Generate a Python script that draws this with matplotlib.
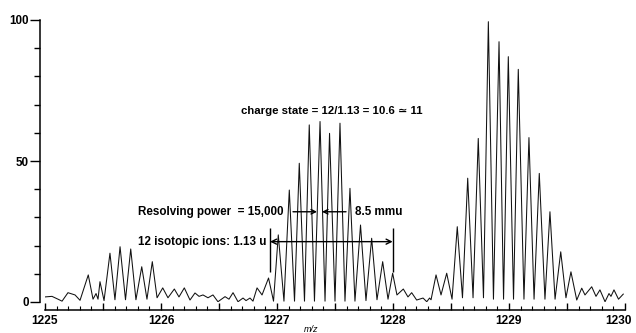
## ::: Importing Packages ::: ##
import numpy as np
import matplotlib
matplotlib.use('Agg')
import matplotlib.pyplot as plt
import matplotlib.transforms as mtransforms
from matplotlib.ticker import MultipleLocator

plt.rcParams['font.family'] = ['Liberation Sans', 'DejaVu Sans']
plt.rcParams['font.weight'] = 'bold'

## ::: Data ::: ##
# -> spectrum vertices: m/z and relative intensity (peak tops + valleys)
mz = [1225.000, 1225.060, 1225.112, 1225.147, 1225.198, 1225.259, 1225.302, 1225.373,
      1225.414, 1225.440, 1225.457, 1225.474, 1225.509, 1225.560, 1225.603, 1225.647,
      1225.694, 1225.739, 1225.784, 1225.834, 1225.879, 1225.925, 1225.966, 1226.015,
      1226.060, 1226.115, 1226.155, 1226.201, 1226.250, 1226.293, 1226.328, 1226.362,
      1226.405, 1226.448, 1226.491, 1226.552, 1226.586, 1226.621, 1226.664, 1226.707,
      1226.733, 1226.767, 1226.793, 1226.828, 1226.871, 1226.927, 1226.970, 1227.011,
      1227.060, 1227.106, 1227.151, 1227.192, 1227.237, 1227.278, 1227.323, 1227.371,
      1227.414, 1227.453, 1227.500, 1227.543, 1227.586, 1227.629, 1227.672, 1227.720,
      1227.767, 1227.816, 1227.862, 1227.911, 1227.957, 1227.997, 1228.034, 1228.089,
      1228.129, 1228.161, 1228.204, 1228.259, 1228.291, 1228.315, 1228.328, 1228.371,
      1228.414, 1228.463, 1228.509, 1228.554, 1228.599, 1228.644, 1228.690, 1228.735,
      1228.780, 1228.822, 1228.866, 1228.914, 1228.953, 1228.994, 1229.039, 1229.080,
      1229.129, 1229.172, 1229.216, 1229.261, 1229.310, 1229.353, 1229.397, 1229.446,
      1229.491, 1229.534, 1229.584, 1229.627, 1229.655, 1229.713, 1229.750, 1229.784,
      1229.828, 1229.862, 1229.879, 1229.905, 1229.944, 1229.985]
intensity = [1.8, 2.0, 1.0, 0.3, 3.3, 2.5, 0.6, 9.6,
             1.0, 3.0, 1.0, 7.2, 0.5, 17.3, 0.8, 19.6,
             0.8, 18.8, 0.8, 12.5, 1.0, 14.3, 1.5, 5.0,
             1.5, 4.6, 1.8, 5.0, 0.7, 3.2, 2.0, 2.5,
             1.5, 2.5, 0.1, 1.9, 1.0, 3.3, 0.1, 1.4,
             0.5, 1.4, 0.3, 5.0, 2.5, 8.5, 0.3, 23.8,
             0.3, 39.7, 0.3, 49.2, 0.3, 62.8, 0.3, 64.0,
             0.3, 59.8, 0.3, 63.4, 0.3, 40.3, 0.3, 27.3,
             0.5, 22.6, 0.8, 14.3, 1.0, 10.2, 2.5, 4.6,
             1.8, 3.3, 0.7, 1.4, 0.1, 1.4, 0.8, 9.6,
             2.5, 10.2, 1.0, 26.7, 1.5, 43.9, 1.5, 58.0,
             1.5, 99.4, 1.0, 92.3, 1.0, 87.0, 1.0, 82.5,
             1.0, 58.3, 1.0, 45.6, 1.0, 32.0, 1.0, 17.8,
             1.5, 10.7, 0.7, 4.9, 2.5, 5.4, 2.0, 4.3,
             0.1, 3.0, 2.0, 4.3, 1.0, 2.8]

x_ticks = [1225, 1225.5, 1226, 1226.5, 1227, 1227.5, 1228, 1228.5, 1229, 1229.5, 1230]
x_labels = ['1225', '', '1226', '', '1227', '', '1228', '', '1229', '', '1230']
y_ticks = [0, 50, 100]
y_labels = ['0', '50', '100']

# -> annotation positions (data units)
isotope_span = [1226.940, 1227.997]
fwhm_left = [1227.138, 1227.345]
fwhm_right = [1227.595, 1227.388]


## ::: Figure ::: ##
fig = plt.figure(figsize=(6.36, 3.33), dpi=100)
ax = fig.add_axes([45 / 636, 31 / 333, 580 / 636, 282 / 333])

ax.plot(mz, intensity, color='#111111', lw=0.75)
ax.set_xlim(1225, 1230)
ax.set_ylim(0, 100)

# -> spines
for s in ['top', 'right']:
    ax.spines[s].set_visible(False)
ax.spines['left'].set_position(('outward', 3.6))
ax.spines['bottom'].set_position(('outward', 5.4))
ax.spines['left'].set_linewidth(1.1)
ax.spines['bottom'].set_linewidth(1.1)
ax.spines['bottom'].set_bounds(1225, 1230)

ax.set_xticks(x_ticks)
ax.set_xticklabels(x_labels, fontsize=8.6, fontweight='bold')
ax.xaxis.set_minor_locator(MultipleLocator(0.1))
ax.tick_params(axis='x', which='major', direction='in', length=5, width=1.0, pad=4)
ax.tick_params(axis='x', which='minor', direction='in', length=3, width=0.8)

# -> last label sits at the right edge, nudge it in so it is not cut
last = ax.get_xticklabels()[-1]
last.set_transform(last.get_transform() +
                   mtransforms.ScaledTranslation(-0.06, 0, fig.dpi_scale_trans))

ax.set_yticks(y_ticks)
ax.set_yticklabels(y_labels, fontsize=8.4, fontweight='bold')
ax.yaxis.set_minor_locator(MultipleLocator(10))
ax.tick_params(axis='y', which='major', direction='out', length=7, width=1.0, pad=1)
ax.tick_params(axis='y', which='minor', direction='out', length=4, width=1.0)

## ::: Annotations ::: ##
fs = 8.4
ax.text(1226.687, 67.8, 'charge state = 12/1.13 = 10.6 \u2243 11', fontsize=8.2,
        fontweight='bold', ha='left', va='center')
ax.text(1225.804, 32.0, 'Resolving power  = 15,000', fontsize=fs,
        fontweight='bold', ha='left', va='center')
ax.text(1227.672, 32.0, '8.5 mmu', fontsize=fs, fontweight='bold', ha='left', va='center')
ax.text(1225.804, 21.4, '12 isotopic ions: 1.13 u', fontsize=fs,
        fontweight='bold', ha='left', va='center')

arrow = dict(arrowstyle='->', color='black', lw=1.0, shrinkA=0, shrinkB=0,
             mutation_scale=8)
ax.annotate('', xy=(fwhm_left[1], 32.0), xytext=(fwhm_left[0], 32.0), arrowprops=arrow)
ax.annotate('', xy=(fwhm_right[1], 32.0), xytext=(fwhm_right[0], 32.0), arrowprops=arrow)
ax.annotate('', xy=(isotope_span[1], 21.4), xytext=(isotope_span[0], 21.4),
            arrowprops=dict(arrowstyle='<->', color='black', lw=1.0, shrinkA=0,
                            shrinkB=0, mutation_scale=9))
ax.vlines(isotope_span, 10.6, 26.2, color='black', lw=1.0)

fig.text(311 / 636, 4 / 333, 'm/z', fontsize=6.5, style='italic',
         fontweight='normal', ha='center', va='center')

fig.savefig('out.png', dpi=100)
